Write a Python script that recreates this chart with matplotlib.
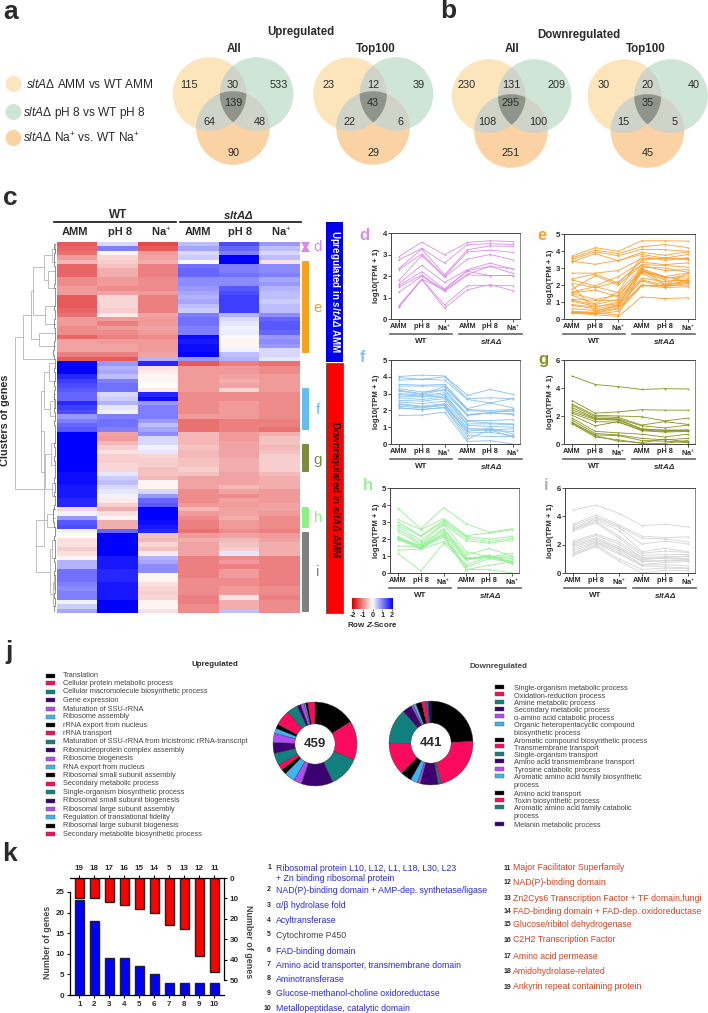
import matplotlib
matplotlib.use("Agg")
import matplotlib.pyplot as plt
import numpy as np
from matplotlib.colors import LinearSegmentedColormap
from matplotlib.patches import Circle, Polygon, Rectangle, FancyBboxPatch

plt.rcParams['font.family'] = ['Liberation Sans', 'DejaVu Sans']
plt.rcParams['mathtext.fontset'] = 'custom'
plt.rcParams['mathtext.rm'] = 'Liberation Sans'
plt.rcParams['mathtext.it'] = 'Liberation Sans:italic'
plt.rcParams['mathtext.bf'] = 'Liberation Sans:bold'
plt.rcParams['mathtext.bfit'] = 'Liberation Sans:italic:bold'

W, H = 708, 1013

# panels a, b: venn counts, order = A only, A+B, B only, all, A+C, B+C, C only
venn_up_all = [115, 30, 533, 139, 64, 48, 90]
venn_up_top = [23, 12, 39, 43, 22, 6, 29]
venn_down_all = [230, 131, 209, 295, 108, 100, 251]
venn_down_top = [30, 20, 40, 35, 15, 5, 45]
venn_legend = [r'$\mathit{sltA\Delta}$ AMM vs WT AMM',
               r'$\mathit{sltA\Delta}$ pH 8 vs WT pH 8',
               r'$\mathit{sltA\Delta}$ Na$^{+}$ vs. WT Na$^{+}$']

# panel c: row z-scores, columns WT AMM, pH 8, Na, sltA AMM, pH 8, Na
heat_rows = [
    [-1.5, .3, -1.6, .5, 1.4, .8], [-1.4, 1.0, -1.5, .7, 1.2, .5], [-1.3, -.1, -1.0, .3, 1.0, .3],
    [-1.0, -.4, -.9, .4, 2, .5], [-.7, -.5, -.8, -.1, 2, -.3], [-1.4, -.6, -1.2, 1.1, 1.0, .9],
    [-1.4, -.8, -1.2, 1.2, 1.0, .9], [-1.4, -.8, -1.2, 1.2, 1.1, 1.0], [-1.1, -1.0, -1.1, .9, .9, .7],
    [-1.1, -1.0, -1.1, .9, .9, .8], [-1.0, -1.1, -1.1, .8, 1.3, .6], [-1.0, -.9, -1.0, .7, 1.4, .5],
    [-1.5, -.4, -1.2, .6, 1.5, .5], [-1.5, -.4, -1.2, .7, 1.5, .4], [-1.5, -.4, -1.2, .5, 1.5, .5],
    [-1.4, -.5, -1.2, .4, 1.5, .5], [-1.3, -.2, -.9, 1.0, .6, .9], [-1.0, -1.0, -1.0, 1.1, .3, 1.2],
    [-1.0, -1.2, -1.0, 1.1, .2, 1.3], [-1.1, -1.0, -.9, 1.0, .1, 1.3], [-1.1, -1.1, -1.0, 1.0, .15, 1.2],
    [-1.4, -1.2, -1.1, 1.9, -.05, .8], [-.9, -1.0, -1.0, 1.8, -.1, .9], [-.9, -.9, -1.0, 1.9, -.1, .8],
    [-.9, -.9, -1.0, 1.9, .1, .3], [-1.2, -1.2, -.9, 2, .5, .3], [-1.5, -1.5, .6, .8, .6, .2],
    [2, .8, 1.7, -1.5, -1.2, -1.3], [2, .6, -.3, -1.0, -1.0, -1.1], [2, .7, -.2, -1.0, -1.0, -1.1],
    [1.7, .5, -.1, -1, -.9, -1], [1.5, 1.0, -.1, -1, -.8, -1], [1.4, 1.1, 0, -1, -.9, -1.0],
    [1.3, 1.1, -.2, -1.0, -.4, -1.0], [1.2, .3, 1.7, -1.1, -1.1, -1.1], [1.2, .4, 1.9, -1.1, -1.1, -1.1],
    [1.7, .6, .8, -1.1, -1.0, -1.1], [1.5, .2, 1.0, -1.1, -1.0, -1.1], [1.4, .1, 1.0, -1.1, -1.0, -1.1],
    [.8, 1.0, 1.0, -1.0, -1.0, -1.1], [1.0, 1.1, .8, -1.3, -1.2, -1.2], [1.2, 1.1, .5, -1.3, -1.2, -1.2],
    [1.3, 1.0, .7, -1.3, -1.2, -1.3], [2, -.9, .9, -.7, -1, -.8], [2, -1.0, .3, -.7, -1, -.6],
    [2, -.7, .3, -.7, -.9, -.6], [2, -.5, .1, -.6, -.9, -.7], [2, -.3, .2, -.7, -.9, -.6],
    [2, -.5, -.4, -.7, -.9, -.5], [2, -.5, -.5, -.6, -.8, -.5], [2, -.4, -.5, -.6, -.8, -.5],
    [2, -.4, -.6, -.5, -.8, -.5], [1.9, .2, -.6, -.6, -.9, -.7], [1.9, .4, -.7, -.9, -.9, -.8],
    [1.9, .5, -.1, -.9, -.9, -.8], [1.8, .3, -.1, -.9, -.7, -.8], [1.8, .2, .3, -1.1, -.9, -1.0],
    [1.8, .1, .8, -1.1, -1.1, -1.0], [1.7, -.2, 1.2, -1.1, -.9, -1.0], [1.7, -.5, 1.3, -1.0, -1.0, -.9],
    [-.4, -.8, 2, -.7, -.9, -.9], [.1, -.3, 2, -1.0, -.9, -1.0], [.8, -.1, 2, -1.1, -.8, -1.1],
    [1.3, -.8, 1.9, -1.2, -1.0, -1.1], [1.4, -.8, 1.8, -1.2, -1.0, -1.1], [.1, 1.2, 1.7, -1.3, -1.1, -1.2],
    [.0, 2, -.6, -1, -.9, -1], [-.3, 2, -.7, -.8, -.7, -.9], [-.3, 2, -.4, -.9, -.6, -.8],
    [-.5, 2, -.6, -.9, -.5, -.8], [-.3, 2, -.2, -.9, .2, -.8], [-.1, 1.8, .6, -1.2, -1.1, -1.2],
    [.6, 1.8, .7, -1.2, -1.0, -1.2], [.6, 1.8, .9, -1.2, -1.2, -1.2], [1.1, 1.7, .9, -1.2, -1.0, -1.2],
    [1.1, 1.7, -.1, -1.2, -1.0, -1.2], [1.1, 1.7, -.1, -1.1, -1.1, -1.2], [1.0, 1.8, -.3, -1.1, -1.1, -1.2],
    [.9, 1.8, -.4, -1.1, -1.0, -1.1], [1.0, 1.8, -.5, -1.1, -1.0, -1.1], [1.0, 1.8, -.4, -1.2, -.3, -1.2],
    [.1, 2, -.1, -1.2, -.8, -1.1], [.4, 2, -.1, -1.1, -.8, -1.1], [.7, 2, -.3, -1.1, .5, -1.1],
]
heat_cols = ['AMM', 'pH 8', 'Na$^{+}$', 'AMM', 'pH 8', 'Na$^{+}$']
# dendrogram as (height, left, right), a bare number is a heatmap row
dendro_up = (34, (26, (24, (13, (5, (2, 0, 2), 4), (9, 6, 10)), (12, 14, 18)), (18, 20, 23)), 26)
dendro_down = (13, (16, (13, (8, 27, 31), (7, (3, 34, 37), 39)), (12, (6, 45, 50), (5, 54, 57))),
               (21, (10, (4, 60, 62), 64), (7, (5, 67, 71), (4, (3, 75, 78), 82))))
dendro_root = 42
leaf_heights = [2, 3, 1, 4, 2, 3, 1, 2, 1, 3, 2, 1, 3, 1, 2, 3, 1, 2, 4, 1, 2, 1, 3, 2, 4, 3, 2,
                1, 3, 2, 1, 2, 3, 1, 4, 2, 1, 3, 2, 1, 2, 3, 1, 2, 1, 3, 2, 1, 2, 3, 1, 2, 1, 3,
                2, 1, 3, 2, 1, 2, 4, 3, 5, 3, 2, 1, 2, 3, 1, 2, 1, 3, 2, 1, 2, 3, 1, 2, 1, 3, 2,
                1, 2, 3]

line_labels = ['AMM', 'pH 8', 'Na$^{+}$', 'AMM', 'pH 8', 'Na$^{+}$']
lines_d = [
    [2.9, 3.58, 2.98, 3.56, 3.64, 3.6], [2.75, 3.28, 2.6, 3.46, 3.5, 3.47],
    [2.35, 3.25, 2.05, 3.22, 3.4, 3.38], [2.3, 3.02, 1.98, 3.12, 3.2, 3.1],
    [1.8, 2.95, 1.95, 2.78, 3.0, 2.75], [1.65, 2.5, 1.7, 2.3, 2.6, 2.33],
    [1.55, 2.2, 1.4, 2.25, 2.45, 2.33], [1.48, 2.05, 1.33, 2.08, 2.45, 2.12],
    [1.25, 2.0, 1.28, 2.05, 2.02, 2.02], [.62, 1.85, .65, 1.55, 1.55, 1.55],
    [.58, 1.83, .5, 1.36, 1.6, 1.32], [.55, 1.85, 1.38, 2.22, 2.02, 2.02],
]
lines_e = [
    [3.7, 4.2, 3.98, 4.6, 4.6, 4.58], [3.6, 4.05, 3.85, 4.25, 4.38, 4.2],
    [3.5, 3.95, 3.72, 4.1, 4.08, 3.98], [3.35, 3.85, 3.42, 3.92, 3.75, 3.95],
    [3.4, 3.22, 3.45, 3.8, 3.58, 3.8], [2.7, 2.7, 2.85, 3.55, 3.55, 3.5],
    [2.35, 2.65, 2.1, 3.45, 3.6, 3.55], [2.3, 1.95, 2.5, 3.35, 3.2, 3.3],
    [2.1, 1.85, 2.2, 3.2, 3.15, 3.05], [1.75, 2.55, 2.0, 3.15, 2.85, 2.9],
    [1.6, 1.9, 1.55, 3.05, 3.0, 2.75], [1.55, 1.7, 1.3, 2.95, 2.5, 2.7],
    [1.5, 1.15, 1.4, 2.85, 2.4, 2.55], [1.15, 1.1, 1.1, 2.8, 2.45, 2.4],
    [1.1, .85, 1.15, 2.75, 2.3, 2.25], [1.05, .75, .9, 2.7, 2.05, 2.2],
    [.85, .7, 1.0, 2.4, 2.2, 2.3], [.8, .6, .85, 2.3, 2.0, 2.15],
    [.6, .5, .75, 2.25, 1.9, 2.1], [.45, .4, .65, 2.0, 1.95, 2.0],
    [.4, .35, .6, 2.0, 1.85, 1.9], [.4, .3, .45, 1.95, 1.95, 2.3],
    [.35, .35, .25, 2.85, 2.5, 2.2], [.35, .25, .15, 1.3, 1.2, 1.25],
    [1.4, .9, 1.6, 3.7, 3.45, 3.6], [2.0, .45, .8, 3.0, 2.0, 2.7],
]
lines_f = [
    [4.02, 4.1, 4.05, 2.9, 3.25, 2.95], [3.95, 3.85, 4.0, 2.7, 2.75, 2.7],
    [3.8, 3.85, 3.8, 2.65, 2.45, 2.7], [3.55, 3.5, 3.55, 2.1, 2.45, 2.15],
    [3.45, 3.45, 3.45, 2.05, 2.0, 2.05], [3.2, 3.0, 3.4, 2.0, 1.9, 1.95],
    [3.15, 2.95, 3.25, 1.75, 1.85, 1.8], [3.0, 2.9, 3.05, 1.7, 1.85, 1.75],
    [2.95, 2.85, 2.95, 1.4, 1.4, 1.45], [2.85, 2.8, 2.85, 1.35, 1.25, 1.2],
    [2.75, 2.65, 2.8, 1.2, 1.2, 1.15], [2.6, 2.55, 2.7, 1.1, 1.05, 1.0],
    [2.5, 2.4, 2.55, .95, .85, .9], [2.4, 2.25, 2.4, .85, .8, .75],
    [2.35, 2.2, 2.35, .75, .95, .6], [2.25, 2.15, 2.3, .65, .7, .5],
    [2.15, 2.05, 2.2, .5, .45, .45], [2.15, 2.05, 2.15, .3, .85, .4],
    [1.7, 1.72, 1.9, .15, .2, 0.0], [3.3, 3.1, 3.2, 1.75, 1.85, 2.05],
]
lines_g = [
    [4.85, 4.25, 4.1, 3.9, 3.95, 3.93], [3.1, 2.2, 2.3, 2.45, 2.42, 2.42],
    [2.85, 2.05, 2.0, 1.95, 1.65, 1.85], [2.75, 1.95, 1.9, 1.35, 1.6, 1.4],
    [2.6, 1.85, 1.8, 1.3, 1.15, 1.35], [2.45, 1.8, 1.75, 1.1, .95, 1.0],
    [2.3, 1.75, 1.7, 1.05, 1.0, 1.0], [2.2, 1.6, 1.55, 1.0, .9, .95],
    [2.05, 1.3, 1.6, .95, .85, .9], [1.85, .9, .8, .7, .5, .7],
    [1.7, .75, .65, .4, .3, .4], [1.55, .65, .6, .25, .2, .1],
    [1.5, .6, .2, .1, .35, .15], [1.45, .5, .3, .05, .05, .25],
]
lines_h = [
    [3.8, 2.6, 3.85, 2.9, 2.4, 2.6], [3.15, 2.55, 3.2, 2.2, 2.35, 2.55],
    [3.0, 2.2, 3.1, 2.15, 2.0, 2.15], [2.85, 2.15, 3.0, 2.05, 1.85, 2.05],
    [2.75, 1.9, 2.9, 1.9, 1.75, 1.95], [2.6, 1.75, 2.85, 1.25, .95, 1.15],
    [2.45, 1.65, 2.6, 1.05, 1.45, 1.0], [2.15, 1.55, 2.55, .9, .95, .85],
    [2.1, 1.5, 2.4, .85, .9, .7], [2.05, 1.45, 2.3, .75, 1.0, .55],
    [2.0, 1.4, 2.25, .35, .85, .6], [1.95, 1.65, 2.2, .2, .45, .65],
    [1.6, 1.5, 2.1, .2, .2, 0.0], [1.35, 1.4, 1.85, .8, 1.05, .65],
    [1.15, .12, 1.75, .5, .95, .95],
]
lines_i = [
    [4.45, 4.8, 4.2, 3.35, 3.45, 3.25], [3.45, 4.1, 3.4, 2.6, 2.5, 2.55],
    [3.35, 3.95, 3.3, 2.45, 2.4, 2.2], [3.2, 3.85, 3.2, 2.05, 2.25, 2.05],
    [3.1, 3.75, 3.0, 1.5, 1.75, 1.5], [3.05, 3.65, 2.6, 1.4, 1.55, 1.45],
    [2.95, 3.55, 2.45, 1.25, 1.3, 1.3], [2.25, 2.75, 2.2, 1.1, 1.15, 1.2],
    [2.15, 2.65, 2.05, 1.0, 1.1, 1.15], [2.05, 2.5, 1.85, .95, 1.05, 1.0],
    [1.95, 2.4, 1.75, .85, .9, .95], [1.85, 2.3, 1.7, .8, .85, .9],
    [1.7, 2.2, 1.6, .6, .75, .8], [1.55, 2.15, 1.45, .55, .6, .5],
    [1.4, 2.05, 1.35, .5, .45, .35], [1.3, 1.95, 1.0, .25, .35, .3],
    [1.25, 1.85, .85, 0.0, .2, .15],
]

# panel j: donut shares and term names
terms_up = ['Translation', 'Cellular protein metabolic process', 'Cellular macromolecule biosynthetic process',
            'Gene expression', 'Maturation of SSU-rRNA', 'Ribosome assembly', 'rRNA export from nucleus',
            'rRNA transport', 'Maturation of SSU-rRNA from tricistronic rRNA-transcript',
            'Ribonucleoprotein complex assembly', 'Ribosome biogenesis', 'RNA export from nucleus',
            'Ribosomal small subunit assembly', 'Secondary metabolic process', 'Single-organism biosynthetic process',
            'Ribosomal small subunit biogenesis', 'Ribosomal large subunit assembly',
            'Regulation of translational fidelity', 'Ribosomal large subunit biogenesis',
            'Secondary metabolite biosynthetic process']
share_up = [58, 54, 43, 44, 11, 15, 7, 8, 17, 15, 13, 7, 6, 22, 15, 5, 5, 2, 3, 10]
terms_down = ['Single-organism metabolic process', 'Oxidation-reduction process', 'Amine metabolic process',
              'Secondary metabolic process', 'α-amino acid catabolic process',
              'Organic heteropentacyclic compound\nbiosynthetic process', 'Aromatic compound biosynthetic process',
              'Transmembrane transport', 'Single-organism transport', 'Amino acid transmembrane transport',
              'Tyrosine catabolic process', 'Aromatic amino acid family biosynthetic\nprocess', 'Amino acid transport',
              'Toxin biosynthetic process', 'Aromatic amino acid family catabolic\nprocess', 'Melanin metabolic process']
share_down = [88, 78, 4, 25, 4, 10, 15, 45, 50, 13, 3, 4, 8, 6, 3, 4]
donut_colors = ['#000000', '#fb0a5e', '#11807f', '#3d0070', '#b04df5', '#3fb4f2']

# panel k
bar_x = [1, 2, 3, 4, 5, 6, 7, 8, 9, 10]
blue_counts = [23, 18, 9, 9, 7, 5, 3, 3, 3, 3]
red_counts = [10, 10, 12, 13, 15, 17, 23, 25, 38, 46]
red_ids = [19, 18, 17, 16, 15, 14, 5, 13, 12, 11]
domains_blue = ['Ribosomal protein L10, L12, L1, L18, L30, L23\n+ Zn binding ribosomal protein',
                'NAD(P)-binding domain + AMP-dep. synthetase/ligase', 'α/β hydrolase fold', 'Acyltransferase',
                'Cytochrome P450', 'FAD-binding domain', 'Amino acid transporter, transmembrane domain',
                'Aminotransferase', 'Glucose-methanol-choline oxidoreductase', 'Metallopeptidase, catalytic domain']
domains_red = ['Major Facilitator Superfamily', 'NAD(P)-binding domain', 'Zn2Cys6 Transcription Factor + TF domain,fungi',
               'FAD-binding domain + FAD-dep. oxidoreductase', 'Glucose/ribitol dehydrogenase', 'C2H2 Transcription Factor',
               'Amino acid permease', 'Amidohydrolase-related', 'Ankyrin repeat containing protein']

fig = plt.figure(figsize=(W / 100, H / 100), dpi=100)


def px_axes(x0, y0, x1, y1, **kw):
    return fig.add_axes([x0 / W, 1 - y1 / H, (x1 - x0) / W, (y1 - y0) / H], **kw)


ov = fig.add_axes([0, 0, 1, 1])
ov.set_xlim(0, W)
ov.set_ylim(H, 0)
ov.axis('off')

DARK = '#2b2b2b'
for s, x, y in [('a', 11, 12), ('b', 448, 11), ('c', 10, 198), ('j', 9, 652), ('k', 10, 854)]:
    ov.text(x, y, s, fontsize=19, fontweight='bold', color=DARK, ha='center', va='center')

# venns
YEL, GRN, ORG = '#fde5bb', '#cfe5d6', '#fbd2a3'
PAIR, TRIPLE = '#d0d4c8', '#8f958a'
RAD = 36.8
theta = np.linspace(0, 2 * np.pi, 240, endpoint=False)


def inside(pts, e):
    return (pts[:, 0] - e[0]) ** 2 + (pts[:, 1] - e[1]) ** 2 <= RAD ** 2


def overlap(ells):
    keep = []
    for i, e in enumerate(ells):
        p = np.column_stack([e[0] + RAD * np.cos(theta), e[1] + RAD * np.sin(theta)])
        for j, o in enumerate(ells):
            if j != i:
                p = p[inside(p, o)]
        keep.append(p)
    p = np.vstack(keep)
    c = p.mean(axis=0)
    return p[np.argsort(np.arctan2(p[:, 1] - c[1], p[:, 0] - c[0]))]


venn_dx = [-44, 0, 46, 0, -24, 27, 0]
venn_dy = [85, 85, 85, 103, 122, 122, 153]


def venn(xa, xb, xc, ya, yc, counts):
    a, b, c = (xa, ya), (xb, ya), (xc, yc)
    for e, col in [(a, YEL), (b, GRN), (c, ORG)]:
        ov.add_patch(Circle(e, RAD, fc=col, ec='none'))
    for pair in [(a, b), (a, c), (b, c)]:
        ov.add_patch(Polygon(overlap(pair), fc=PAIR, ec='none'))
    ov.add_patch(Polygon(overlap((a, b, c)), fc=TRIPLE, ec='none'))
    for n, dx, dy in zip(counts, venn_dx, venn_dy):
        ov.text(xc + dx, dy, str(n), fontsize=7.8, color=DARK, ha='center', va='center')


venn(209.5, 256.6, 233, 94, 128, venn_up_all)
venn(350, 396.5, 373, 94, 128, venn_up_top)
venn(488.7, 534.7, 511, 96, 131, venn_down_all)
venn(624.4, 671, 647.4, 96, 131, venn_down_top)
for s, x, y in [('Upregulated', 301, 32), ('All', 234, 49), ('Top100', 376, 49),
                ('Downregulated', 579, 35), ('All', 512, 49), ('Top100', 646, 49)]:
    ov.text(x, y, s, fontsize=8.3, fontweight='bold', color=DARK, ha='center', va='center')
for s, col, y, x in zip(venn_legend, [YEL, GRN, ORG], [84, 112, 138], [26, 23, 23]):
    ov.add_patch(Circle((13.5, y), 8, fc=col, ec='none'))
    ov.text(x, y + .5, s, fontsize=8.6, color=DARK, ha='left', va='center')

# heatmap
cmap = LinearSegmentedColormap.from_list('z', [(0, '#e01818'), (.25, '#f09a9a'), (.5, '#ffffff'), (1, '#0000ff')])
ax = px_axes(57, 242, 300, 613)
ax.imshow(np.array(heat_rows), cmap=cmap, vmin=-2, vmax=2, aspect='auto', interpolation='nearest')
ax.axis('off')

dn = px_axes(12, 242, 57, 613)
dn.set_xlim(45, 0)
dn.set_ylim(len(heat_rows) - .5, -.5)
dn.axis('off')
GR = '#b4b4b4'


def draw_node(node):
    if not isinstance(node, tuple):
        return float(node), 1.5
    h, l, r = node
    yl, hl = draw_node(l)
    yr, hr = draw_node(r)
    dn.plot([hl, h, h, hr], [yl, yl, yr, yr], color=GR, lw=.6, solid_joinstyle='miter')
    return (yl + yr) / 2, h


yu, hu = draw_node(dendro_up)
yd, hd = draw_node(dendro_down)
dn.plot([hu, dendro_root, dendro_root, hd], [yu, yu, yd, yd], color=GR, lw=.6)
rows = np.arange(len(heat_rows))
dn.step(leaf_heights, rows, color='#666666', lw=.5, where='mid')

ov.text(118, 215, 'WT', fontsize=8.5, fontweight='bold', color=DARK, ha='center', va='center')
ov.text(238, 215, r'$\mathbfit{sltA\Delta}$', fontsize=8.2, color=DARK, ha='center', va='center')
ov.plot([54, 176], [222, 222], color='#111111', lw=1.2)
ov.plot([180, 301], [222, 222], color='#111111', lw=1.2)
for s, x in zip(heat_cols, [75, 120, 161, 198, 240, 281]):
    ov.text(x, 232, s, fontsize=8, fontweight='bold', color=DARK, ha='center', va='center')
ov.text(5, 420, 'Clusters of genes', fontsize=7.8, fontweight='bold', color=DARK, rotation=90, ha='center', va='center')

ov.add_patch(Rectangle((326, 222), 17, 140, fc='#0000e6', ec='none'))
ov.add_patch(Rectangle((326, 363), 17, 250, fc='#ff0000', ec='#555555', lw=.6))
ov.text(334.5, 292, r'Upregulated in $\mathbfit{sltA\Delta}$ AMM', fontsize=7, fontweight='bold', color='white',
        rotation=270, ha='center', va='center')
ov.text(334.5, 489, r'Downregulated in $\mathbfit{sltA\Delta}$ AMM', fontsize=7, fontweight='bold', color='#3a0505',
        rotation=270, ha='center', va='center')

# cluster brackets
ov.add_patch(Polygon([(301, 242), (310, 242), (307, 247), (310, 252), (301, 252), (304, 247)], fc='#d98ae6', ec='none'))
for y0, y1, col in [(261, 353, '#f9a01f'), (388, 430, '#62bdf2'), (444, 472, '#7e8a3d'),
                    (507, 528, '#8cf27f'), (532, 612, '#808080')]:
    ov.add_patch(FancyBboxPatch((303, y0 + 1), 5, y1 - y0 - 2, boxstyle='round,pad=1', fc=col, ec='none'))
for s, y, col in [('d', 247, '#d98ae6'), ('e', 308, '#f9a01f'), ('f', 410, '#62bdf2'), ('g', 460, '#7e8a3d'),
                  ('h', 518, '#8cf27f'), ('i', 572, '#808080')]:
    ov.text(318, y, s, fontsize=11, color=col, ha='center', va='center')

# colour key
cb = px_axes(352, 598, 393, 609)
cb.imshow(np.linspace(-2, 2, 128).reshape(1, -1), cmap=LinearSegmentedColormap.from_list(
    'k', ['#d80000', '#ffffff', '#0000ff']), aspect='auto', vmin=-2, vmax=2, extent=(-2.1, 2.1, 0, 1))
cb.set_xticks([-2, -1, 0, 1, 2], ['-2', '-1', '0', '1', '2'], fontsize=5.2, fontweight='bold', color=DARK)
cb.set_yticks([])
cb.tick_params(length=1.5, width=.4, pad=.5)
for sp in cb.spines.values():
    sp.set_visible(False)
ov.text(372.5, 624, r'Row $\mathbfit{Z}$-Score', fontsize=5.8, fontweight='bold', color=DARK, ha='center', va='center')


# cluster line panels
def line_panel(x0, y0, x1, y1, data, col, ymax, yticks, letter, lx, ly):
    a = px_axes(x0, y0, x1, y1)
    for row in data:
        a.plot(range(6), row, color=col, lw=.6, marker='s', ms=1.1, mew=0, clip_on=False)
    a.set_xlim(-.35, 5.31)
    a.set_ylim(0, ymax)
    a.set_xticks(range(6), line_labels, fontsize=5.3, fontweight='bold', color=DARK)
    a.set_yticks(yticks, [str(t) for t in yticks], fontsize=5.6, fontweight='bold', color=DARK)
    a.tick_params(length=2, width=.6, pad=1, color='#333333')
    for sp in a.spines.values():
        sp.set_linewidth(.7)
        sp.set_color('#444444')
    a.spines['right'].set_color('#888888')
    ov.text(x0 - 14, (y0 + y1) / 2, 'log10(TPM + 1)', fontsize=5.6, fontweight='bold', color=DARK, rotation=90,
            ha='center', va='center')
    ov.plot([x0 - 1, x0 + 61], [y1 + 15, y1 + 15], color='#666666', lw=1.2)
    ov.plot([x0 + 68, x0 + 131], [y1 + 15, y1 + 15], color='#666666', lw=1.2)
    ov.text(x0 + 30, y1 + 22, 'WT', fontsize=5.8, fontweight='bold', color=DARK, ha='center', va='center')
    ov.text(x0 + 100, y1 + 22, r'$\mathbfit{sltA\Delta}$', fontsize=5.8, color=DARK, ha='center', va='center')
    ov.text(lx, ly, letter, fontsize=12, fontweight='bold', color=col if letter != 'i' else '#b0b0b0',
            ha='center', va='center')


line_panel(391, 233, 520, 319, lines_d, '#dc8fe8', 4, [0, 1, 2, 3, 4], 'd', 364, 235)
line_panel(564, 234, 695, 319, lines_e, '#fa9f30', 5, [0, 1, 2, 3, 4, 5], 'e', 542, 235)
line_panel(391, 360, 520, 444, lines_f, '#85c0f0', 5, [0, 1, 2, 3, 4, 5], 'f', 362, 357)
line_panel(564, 360, 695, 444, lines_g, '#87921a', 6, [0, 2, 4, 6], 'g', 543, 359)
line_panel(390, 488, 519, 573, lines_h, '#93f093', 5, [0, 1, 2, 3, 4, 5], 'h', 368, 485)
line_panel(565, 488, 695, 573, lines_i, '#d4d4d4', 6, [0, 2, 4, 6], 'i', 546, 485)


# donuts
def donut(cx, cy, shares, label):
    a = px_axes(cx - 43, cy - 43, cx + 43, cy + 43)
    cols = [donut_colors[i % 6] for i in range(len(shares))]
    a.pie(shares, colors=cols, startangle=90, counterclock=False, radius=1,
          wedgeprops=dict(width=.52, edgecolor='#333333', linewidth=.3))
    a.set_xlim(-1.025, 1.025)
    a.set_ylim(-1.025, 1.025)
    a.text(0, 0, label, fontsize=9.5, fontweight='bold', color=DARK, ha='center', va='center')


donut(315, 744, share_up, '459')
donut(431, 743, share_down, '441')
ov.text(215, 664, 'Upregulated', fontsize=5.8, fontweight='bold', color=DARK, ha='center', va='center')
ov.text(498, 666, 'Downregulated', fontsize=5.8, fontweight='bold', color='#444444', ha='center', va='center')

up_y = [77, 100, 125, 150, 177, 200, 225, 250, 275, 301, 326, 351, 376, 401, 427, 452, 477, 502, 527, 552]
for i, (s, zy) in enumerate(zip(terms_up, up_y)):
    y = 650 + zy / 3
    ov.add_patch(Rectangle((46, y - 2), 9, 4, fc=donut_colors[i % 6], ec='#555555', lw=.3))
    ov.text(63, y, s, fontsize=5.33, color='#444444', ha='left', va='center')
down_y = [110, 133, 155, 177, 199, 221, 269, 289, 311, 333, 356, 378, 428, 450, 471, 521]
for i, (s, zy) in enumerate(zip(terms_down, down_y)):
    y = 650 + zy / 3
    ov.add_patch(Rectangle((494.5, y - 2), 9, 4, fc=donut_colors[i % 6], ec='#555555', lw=.3))
    ov.text(514, y - 1.8, s, fontsize=5.3, color='#444444', ha='left', va='top', linespacing=1.25)

# panel k bars
kb = px_axes(70, 892, 224, 995)
kb.bar(bar_x, blue_counts, width=.6, color='#0000ff', edgecolor='#222222', linewidth=1)
kb.set_xlim(.38, 10.65)
kb.set_ylim(0, 25)
kb.set_xticks(bar_x, [str(i) for i in bar_x], fontsize=5.8, fontweight='bold', color=DARK)
kb.set_yticks([0, 5, 10, 15, 20, 25], ['0', '5', '10', '15', '20', '25'], fontsize=5.8, fontweight='bold', color=DARK)
kb.tick_params(length=2.5, width=.8, pad=1.5)
kb.patch.set_alpha(0)
for sp in ['top', 'right']:
    kb.spines[sp].set_visible(False)
kb.spines['left'].set_linewidth(.9)
kb.spines['bottom'].set_linewidth(.9)

kr = px_axes(70, 878, 224, 980)
kr.bar(bar_x, red_counts, width=.6, color='#ff0000', edgecolor='#222222', linewidth=1)
kr.set_xlim(.38, 10.65)
kr.set_ylim(50, 0)
kr.xaxis.tick_top()
kr.yaxis.tick_right()
kr.set_xticks(bar_x, [str(i) for i in red_ids], fontsize=5.8, fontweight='bold', color=DARK)
kr.set_yticks([0, 10, 20, 30, 40, 50], ['0', '10', '20', '30', '40', '50'], fontsize=5.8, fontweight='bold', color=DARK)
kr.tick_params(length=2.5, width=.8, pad=1.5)
kr.patch.set_alpha(0)
for sp in ['left', 'bottom']:
    kr.spines[sp].set_visible(False)
kr.spines['top'].set_linewidth(.9)
kr.spines['right'].set_linewidth(.9)
ov.text(48, 942, 'Number of genes', fontsize=6.4, fontweight='bold', color='#444444', rotation=90, ha='center', va='center')
ov.text(248, 942, 'Number of genes', fontsize=6.4, fontweight='bold', color='#444444', rotation=270, ha='center', va='center')

BLUE, REDT = '#2a2ae0', '#d9401f'
blue_y = [68, 134, 180, 225, 269, 317, 358, 401, 444, 489]
for i, (s, zy) in enumerate(zip(domains_blue, blue_y)):
    y = 845 + zy / 3
    ov.text(269 if i < 9 else 267.5, y, str(i + 1), fontsize=5, fontweight='bold', color=DARK, ha='center', va='center')
    ov.text(275.7, y - 3.8, s, fontsize=6.3, color='#444444' if i == 4 else BLUE, ha='left', va='top', linespacing=1.2)
red_y = [68, 111, 159, 199, 238, 284, 333, 378, 425]
for i, (s, zy) in enumerate(zip(domains_red, red_y)):
    y = 845 + zy / 3
    ov.text(507.5, y + .5, str(i + 11), fontsize=5, fontweight='bold', color=DARK, ha='center', va='center')
    ov.text(512.7, y, s, fontsize=6.3, color=REDT, ha='left', va='center')

fig.savefig('out.png', dpi=100)
